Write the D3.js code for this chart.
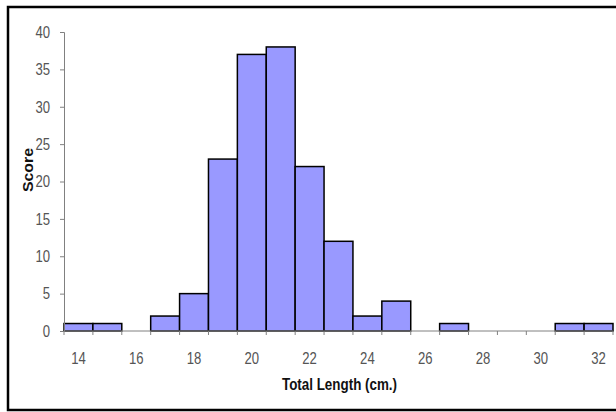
<!DOCTYPE html>
<html>
<head>
<meta charset="utf-8">
<script src="https://cdn.jsdelivr.net/npm/d3@7"></script>
<style>
  body { margin: 0; background: #fff; }
  svg { display: block; }
</style>
</head>
<body>
<svg></svg>
<script>
const bins = [14, 15, 16, 17, 18, 19, 20, 21, 22, 23, 24, 25, 26, 27, 28, 29, 30, 31, 32];
const counts = [1, 1, 0, 2, 5, 23, 37, 38, 22, 12, 2, 4, 0, 1, 0, 0, 0, 1, 1];
const xLabels = [14, 16, 18, 20, 22, 24, 26, 28, 30, 32];
const yTicks = [0, 5, 10, 15, 20, 25, 30, 35, 40];

const width = 616;
const height = 412;
const plotLeft = 64;
const plotRight = 613;
const plotTop = 32;
const plotBottom = 331;

const font = "'Liberation Sans', Arial, sans-serif";
// the source picture is squeezed sideways, so text is narrowed to match
const squeeze = 0.82;

let svg = d3.select("svg").attr("width", width).attr("height", height);

// outer frame
svg.append("rect")
  .attr("x", 8).attr("y", 7)
  .attr("width", 620).attr("height", 403)
  .attr("fill", "none")
  .attr("stroke", "#000")
  .attr("stroke-width", 2.5);

const xScale = d3.scaleBand().domain(bins).range([plotLeft, plotRight]).padding(0);
const yScale = d3.scaleLinear().domain([0, 40]).range([plotBottom, plotTop]);

const data = bins.map((b, i) => ({ bin: b, count: counts[i] })).filter((d) => d.count > 0);

// bars
svg.selectAll("rect.bar")
  .data(data)
  .enter()
  .append("rect")
  .attr("class", "bar")
  .attr("x", (d) => xScale(d.bin))
  .attr("width", xScale.bandwidth())
  .attr("y", (d) => yScale(d.count))
  .attr("height", (d) => plotBottom - yScale(d.count))
  .attr("fill", "#9999ff")
  .attr("stroke", "#000")
  .attr("stroke-width", 1.5);

// y axis (labels drawn separately so they can be narrowed)
const yAxis = d3.axisLeft(yScale).tickValues(yTicks).tickSize(4).tickFormat("");
const gy = svg.append("g")
  .attr("transform", "translate(" + plotLeft + ",0)")
  .call(yAxis);
gy.select(".domain").attr("stroke", "#808080");
gy.selectAll(".tick line").attr("stroke", "#808080");

svg.selectAll("text.ylabel")
  .data(yTicks)
  .enter()
  .append("text")
  .attr("class", "ylabel")
  .attr("transform", (d) => "translate(50," + yScale(d) + ") scale(" + squeeze + ",1)")
  .attr("dy", "0.36em")
  .attr("text-anchor", "end")
  .attr("font-family", font)
  .attr("font-size", 16)
  .attr("fill", "#555")
  .text((d) => d);

// x axis: line and tick marks at bin edges
svg.append("line")
  .attr("x1", plotLeft).attr("x2", plotRight)
  .attr("y1", plotBottom).attr("y2", plotBottom)
  .attr("stroke", "#808080");

const edges = bins.map((d) => xScale(d)).concat([plotRight]);
svg.selectAll("line.xtick")
  .data(edges)
  .enter()
  .append("line")
  .attr("class", "xtick")
  .attr("x1", (d) => d).attr("x2", (d) => d)
  .attr("y1", plotBottom).attr("y2", plotBottom + 4)
  .attr("stroke", "#808080");

svg.selectAll("text.xlabel")
  .data(xLabels)
  .enter()
  .append("text")
  .attr("class", "xlabel")
  .attr("transform", (d) => "translate(" + (xScale(d) + xScale.bandwidth() / 2) + "," + (plotBottom + 33) + ") scale(" + squeeze + ",1)")
  .attr("text-anchor", "middle")
  .attr("font-family", font)
  .attr("font-size", 16)
  .attr("fill", "#555")
  .text((d) => d);

// axis titles
svg.append("text")
  .attr("x", 282)
  .attr("y", 390)
  .attr("textLength", 115)
  .attr("lengthAdjust", "spacingAndGlyphs")
  .attr("font-family", font)
  .attr("font-size", 16)
  .attr("font-weight", "bold")
  .attr("fill", "#111")
  .text("Total Length (cm.)");

svg.append("text")
  .attr("transform", "translate(33,192) rotate(-90)")
  .attr("textLength", 44)
  .attr("lengthAdjust", "spacingAndGlyphs")
  .attr("font-family", font)
  .attr("font-size", 14)
  .attr("font-weight", "bold")
  .attr("fill", "#111")
  .text("Score");
</script>
</body>
</html>
